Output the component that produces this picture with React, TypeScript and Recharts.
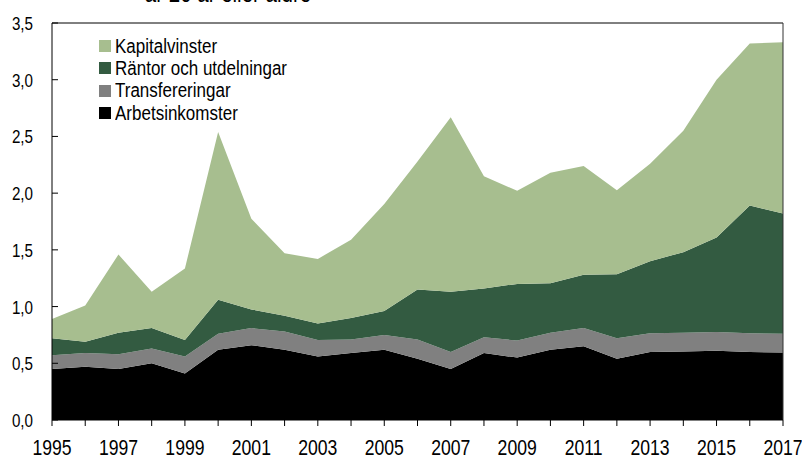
import React from 'react';
import { AreaChart, Area, XAxis, YAxis, ReferenceLine } from 'recharts';

const years = [
  1995, 1996, 1997, 1998, 1999, 2000, 2001, 2002, 2003, 2004, 2005, 2006,
  2007, 2008, 2009, 2010, 2011, 2012, 2013, 2014, 2015, 2016, 2017,
];

const arbetsinkomster = [
  0.45, 0.47, 0.45, 0.5, 0.41, 0.62, 0.66, 0.62, 0.56, 0.59, 0.62, 0.54, 0.45,
  0.59, 0.55, 0.62, 0.65, 0.54, 0.6, 0.605, 0.61, 0.6, 0.595,
];
const transfereringar = [
  0.12, 0.12, 0.13, 0.13, 0.15, 0.14, 0.15, 0.16, 0.145, 0.12, 0.13, 0.17,
  0.15, 0.14, 0.15, 0.15, 0.16, 0.18, 0.165, 0.165, 0.165, 0.165, 0.165,
];
const rantor = [
  0.15, 0.1, 0.19, 0.18, 0.145, 0.3, 0.165, 0.14, 0.145, 0.19, 0.21, 0.44,
  0.53, 0.43, 0.5, 0.435, 0.47, 0.565, 0.635, 0.71, 0.835, 1.125, 1.06,
];
const kapitalvinster = [
  0.17, 0.32, 0.69, 0.32, 0.63, 1.48, 0.8, 0.55, 0.57, 0.69, 0.945, 1.13, 1.54,
  0.99, 0.82, 0.975, 0.96, 0.74, 0.86, 1.07, 1.39, 1.43, 1.51,
];

const yTicks = [0, 0.5, 1, 1.5, 2, 2.5, 3, 3.5];

// no narrow font installed, so Liberation Sans is squeezed horizontally
const FONT = '"Liberation Sans", Arial, sans-serif';
const SQUEEZE = 0.8;

const series = [
  { key: 'arbetsinkomster', name: 'Arbetsinkomster', color: '#000000' },
  { key: 'transfereringar', name: 'Transfereringar', color: '#808080' },
  { key: 'rantor', name: 'Räntor och utdelningar', color: '#335B41' },
  { key: 'kapitalvinster', name: 'Kapitalvinster', color: '#A7BE8F' },
];

const data = years.map((year, i) => ({
  year,
  arbetsinkomster: arbetsinkomster[i],
  transfereringar: transfereringar[i],
  rantor: rantor[i],
  kapitalvinster: kapitalvinster[i],
}));

const XTick = ({ x, y, payload }: any) => {
  if (payload.value % 2 === 0) return null;
  return (
    <text
      transform={`translate(${x},${y + 27}) scale(${SQUEEZE},1)`}
      textAnchor="middle"
      fontFamily={FONT}
      fontSize={22}
      fill="#000"
    >
      {payload.value}
    </text>
  );
};

const YTick = ({ y, payload }: any) => (
  <text
    transform={`translate(33,${y + 7}) scale(${SQUEEZE},1)`}
    textAnchor="end"
    fontFamily={FONT}
    fontSize={19}
    fill="#000"
  >
    {payload.value.toFixed(1).replace('.', ',')}
  </text>
);

const LegendBox = () => (
  <div
    style={{
      position: 'absolute',
      left: 99,
      top: 35,
      fontFamily: FONT,
      fontSize: 20,
      color: '#000',
    }}
  >
    {[...series].reverse().map((s) => (
      <div
        key={s.key}
        style={{ display: 'flex', alignItems: 'center', height: 22.3 }}
      >
        <span
          style={{
            width: 12,
            height: 12,
            background: s.color,
            marginRight: 4,
            display: 'inline-block',
          }}
        />
        <span
          style={{
            display: 'inline-block',
            transform: 'scaleX(0.85)',
            transformOrigin: 'left center',
            whiteSpace: 'nowrap',
          }}
        >
          {s.name}
        </span>
      </div>
    ))}
  </div>
);

export default function App() {
  return (
    <div style={{ position: 'relative', width: 802, height: 456 }}>
      <style>{`body{margin:0}`}</style>
      <div
        style={{
          position: 'absolute',
          top: -19,
          left: 0,
          width: 456,
          textAlign: 'center',
          fontFamily: FONT,
          fontSize: 25,
          lineHeight: '25px',
          transform: 'scaleX(0.82)',
          transformOrigin: '228px 0',
          whiteSpace: 'nowrap',
        }}
      >
        år 20 år eller äldre
      </div>
      <AreaChart
        width={802}
        height={456}
        data={data}
        margin={{ top: 23, right: 19, left: 0, bottom: 0 }}
      >
        <XAxis
          dataKey="year"
          type="number"
          domain={[1995, 2017]}
          ticks={years}
          interval={0}
          height={36}
          tick={<XTick />}
          tickSize={6}
          stroke="#000"
          axisLine={{ stroke: '#000' }}
          tickLine={{ stroke: '#000' }}
        />
        <YAxis
          domain={[0, 3.5]}
          ticks={yTicks}
          width={52}
          tick={<YTick />}
          tickSize={-6}
          stroke="#000"
          axisLine={{ stroke: '#000' }}
          tickLine={{ stroke: '#000' }}
        />
        {series.map((s) => (
          <Area
            key={s.key}
            type="linear"
            dataKey={s.key}
            name={s.name}
            stackId="1"
            stroke="none"
            fill={s.color}
            fillOpacity={1}
            isAnimationActive={false}
          />
        ))}
        <ReferenceLine y={3.5} stroke="#000" />
        <ReferenceLine x={2017} stroke="#333" />
      </AreaChart>
      <LegendBox />
    </div>
  );
}
